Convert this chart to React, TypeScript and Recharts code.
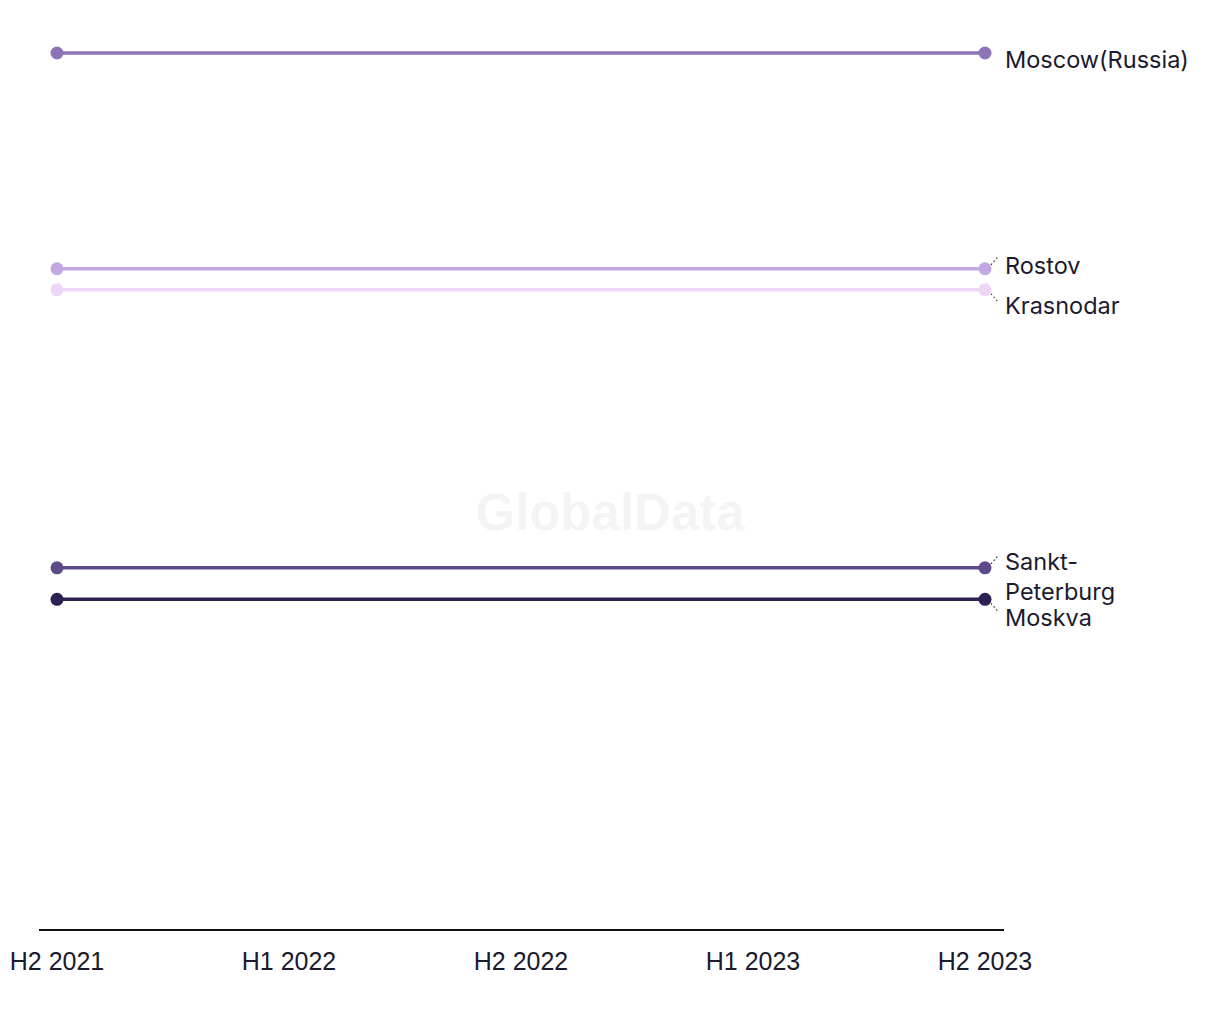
import { Line, LineChart, XAxis, YAxis, Tooltip } from "recharts";

const periods = ["H2 2021", "H1 2022", "H2 2022", "H1 2023", "H2 2023"];

// index values, only first and last half-year reported
const moscowRussia = [100, null, null, null, 100];
const rostov = [75.4, null, null, null, 75.4];
const krasnodar = [73.0, null, null, null, 73.0];
const sanktPeterburg = [41.3, null, null, null, 41.3];
const moskva = [37.7, null, null, null, 37.7];

const seriesNames = ["Moscow(Russia)", "Rostov", "Krasnodar", "Sankt-Peterburg", "Moskva"];

const seriesStyle: Record<string, { color: string; labelDy: number; lines: string[]; leader: number }> = {
  "Moscow(Russia)": { color: "#8e74b6", labelDy: 6, lines: ["Moscow(Russia)"], leader: 0 },
  Rostov: { color: "#c3a7e3", labelDy: -4, lines: ["Rostov"], leader: -1 },
  Krasnodar: { color: "#eed6f9", labelDy: 15, lines: ["Krasnodar"], leader: 1 },
  "Sankt-Peterburg": { color: "#5f4a89", labelDy: -7, lines: ["Sankt-", "Peterburg"], leader: -1 },
  Moskva: { color: "#2e2152", labelDy: 18, lines: ["Moskva"], leader: 1 },
};

const seriesValues = [moscowRussia, rostov, krasnodar, sanktPeterburg, moskva];

const data = periods.map((period, i) => {
  const row: Record<string, string | number | null> = { period };
  seriesNames.forEach((name, s) => {
    row[name] = seriesValues[s][i];
  });
  return row;
});

const textColor = "#1b1a2e";

function EndLabel(props: any) {
  const { x, y, index, name } = props;
  if (index !== periods.length - 1 || x == null || y == null) return null;
  const st = seriesStyle[name];
  const tx = x + 20;
  const ty = y + st.labelDy;
  return (
    <g>
      {st.leader !== 0 && (
        <line
          x1={x + 6}
          y1={y + st.leader * 4}
          x2={x + 13}
          y2={y + st.leader * 12}
          stroke="#333"
          strokeWidth={1.2}
          strokeDasharray="1.5 2.5"
        />
      )}
      <text
        x={tx}
        y={ty}
        fill={textColor}
        fontSize={23.5}
        fontFamily="Inter, 'Noto Sans', sans-serif"
        dominantBaseline="central"
      >
        {st.lines.map((ln, k) => (
          <tspan key={ln} x={tx} dy={k === 0 ? 0 : 30}>
            {ln}
          </tspan>
        ))}
      </text>
    </g>
  );
}

function PeriodTick(props: any) {
  const { x, y, payload } = props;
  return (
    <text
      x={x}
      y={y + 40}
      textAnchor="middle"
      fill={textColor}
      fontSize={25}
      fontFamily="'Liberation Sans Narrow', 'Liberation Sans', sans-serif"
    >
      {payload.value}
    </text>
  );
}

export default function App() {
  return (
    <div style={{ position: "absolute", left: 0, top: 0, width: 1220, height: 1020, background: "#fff" }}>
      <LineChart
        width={1220}
        height={1020}
        data={data}
        margin={{ top: 53, right: 216, bottom: 30, left: 39 }}
      >
        <text
          x={610}
          y={512}
          textAnchor="middle"
          dominantBaseline="central"
          fontSize={51}
          fontWeight={700}
          fill="#f4f4f4"
          fontFamily="'Liberation Sans', Arial, sans-serif"
        >
          GlobalData
        </text>
        <XAxis
          dataKey="period"
          axisLine={{ stroke: "#111", strokeWidth: 2 }}
          tickLine={false}
          tickSize={0}
          tickMargin={0}
          height={60}
          interval={0}
          padding={{ left: 18, right: 19 }}
          tick={<PeriodTick />}
        />
        <YAxis hide domain={[0, 100]} />
        <Tooltip />
        {seriesNames.map((name) => (
          <Line
            key={name}
            dataKey={name}
            name={name}
            stroke={seriesStyle[name].color}
            strokeWidth={3.5}
            connectNulls
            dot={{ r: 6.5, fill: seriesStyle[name].color, stroke: "none" }}
            activeDot={false}
            isAnimationActive={false}
            label={(p: any) => <EndLabel {...p} name={name} />}
          />
        ))}
      </LineChart>
    </div>
  );
}
